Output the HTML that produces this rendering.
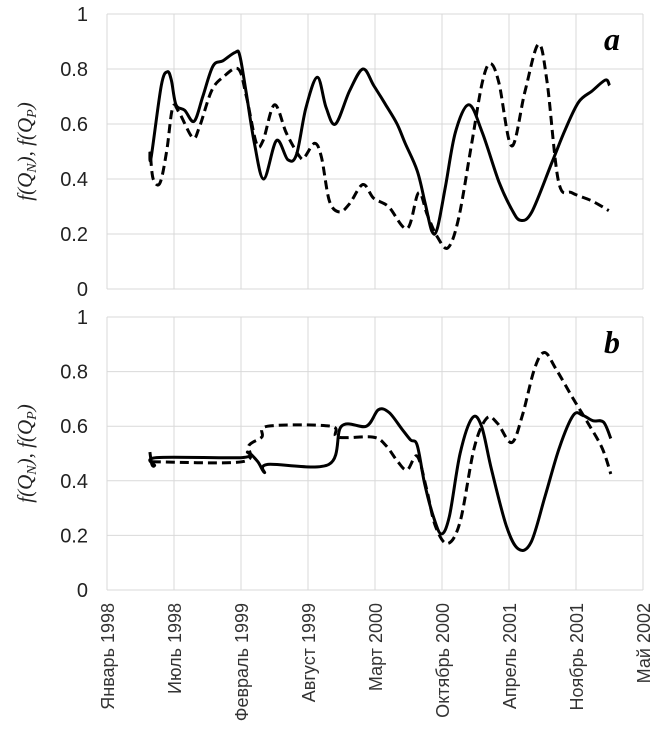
<!DOCTYPE html>
<html><head><meta charset="utf-8"><style>
body{margin:0;background:#fff;width:653px;height:749px;overflow:hidden}
svg{display:block}
text{font-family:"Liberation Sans",sans-serif}
text.serif{font-family:"Liberation Serif",serif}
</style></head><body>
<svg id="chart" width="653" height="749" viewBox="0 0 653 749" xmlns="http://www.w3.org/2000/svg"></svg>
<script>
// time in label-interval units (0 = Январь 1998 ... 8 = Май 2002)
const xLabels=["Январь 1998","Июль 1998","Февраль 1999","Август 1999","Март 2000","Октябрь 2000","Апрель 2001","Ноябрь 2001","Май 2002"];
const yTicks=[0,0.2,0.4,0.6,0.8,1];
const yTickLabels=["0","0.2","0.4","0.6","0.8","1"];
const aSolidT=[.64,.66,.81,.90,.96,1.03,1.16,1.30,1.43,1.58,1.73,1.91,1.98,2.08,2.20,2.34,2.53,2.70,2.83,2.97,3.14,3.27,3.41,3.62,3.82,3.98,4.16,4.33,4.45,4.63,4.75,4.85,4.93,5.05,5.20,5.40,5.60,5.85,6.04,6.17,6.34,6.64,6.84,7.04,7.24,7.44,7.50];
const aSolidV=[.50,.48,.74,.79,.76,.67,.65,.61,.70,.81,.83,.86,.85,.71,.53,.40,.54,.47,.49,.66,.77,.66,.60,.72,.80,.74,.67,.60,.53,.43,.31,.21,.22,.37,.57,.67,.57,.39,.29,.25,.28,.46,.58,.68,.72,.76,.74];
const aDashT=[.65,.69,.79,.89,.98,1.08,1.28,1.38,1.56,1.73,1.96,2.08,2.23,2.33,2.50,2.68,2.88,2.95,3.10,3.20,3.32,3.47,3.62,3.82,3.98,4.20,4.48,4.65,4.78,4.93,5.09,5.25,5.45,5.60,5.72,5.85,6.04,6.24,6.44,6.57,6.74,6.94,7.24,7.49];
const aDashV=[.48,.40,.385,.50,.66,.64,.55,.59,.72,.77,.80,.70,.53,.54,.67,.565,.48,.48,.53,.48,.32,.28,.31,.38,.33,.30,.22,.35,.27,.19,.15,.26,.54,.75,.82,.75,.52,.72,.89,.75,.39,.35,.32,.285];
const bSolidT=[.64,.67,.71,.74,2.02,2.10,2.25,2.35,2.40,3.31,3.50,3.87,4.05,4.21,4.40,4.53,4.63,4.74,4.87,4.99,5.11,5.27,5.45,5.59,5.74,5.96,6.14,6.33,6.54,6.75,6.96,7.10,7.25,7.41,7.52];
const bSolidV=[.505,.46,.456,.485,.485,.505,.47,.43,.46,.46,.60,.60,.66,.65,.59,.55,.53,.39,.27,.205,.27,.50,.63,.60,.44,.235,.15,.175,.345,.52,.64,.64,.62,.615,.555];
const bDashT=[.67,2.02,2.12,2.31,2.40,3.34,3.44,3.97,4.16,4.34,4.48,4.63,4.77,4.90,5.08,5.27,5.48,5.67,5.83,6.04,6.20,6.38,6.53,6.70,6.96,7.17,7.39,7.52];
const bDashV=[.47,.47,.53,.56,.60,.60,.56,.56,.53,.47,.44,.49,.37,.235,.17,.25,.52,.63,.61,.54,.64,.81,.87,.81,.70,.615,.52,.425];

const svg=document.getElementById('chart');
const NS="http://www.w3.org/2000/svg";
function mk(tag,attrs,parent){const e=document.createElementNS(NS,tag);for(const k in attrs)e.setAttribute(k,attrs[k]);(parent||svg).appendChild(e);return e;}
const X0=107,X1=643;
function xs(t){return X0+(X1-X0)*t/8;}
function smoothPath(pts){
  let d="M"+pts[0][0].toFixed(1)+","+pts[0][1].toFixed(1);
  for(let i=0;i<pts.length-1;i++){
    const p0=pts[Math.max(0,i-1)],p1=pts[i],p2=pts[i+1],p3=pts[Math.min(pts.length-1,i+2)];
    const c1x=p1[0]+(p2[0]-p0[0])/6,c1y=p1[1]+(p2[1]-p0[1])/6;
    const c2x=p2[0]-(p3[0]-p1[0])/6,c2y=p2[1]-(p3[1]-p1[1])/6;
    d+=" C"+c1x.toFixed(1)+","+c1y.toFixed(1)+" "+c2x.toFixed(1)+","+c2y.toFixed(1)+" "+p2[0].toFixed(1)+","+p2[1].toFixed(1);
  }
  return d;
}
function panel(top,bottom,letter,series,name){
  const ys=v=>bottom-(bottom-top)*v;
  const g=mk('g',{});
  
  
  for(let i=0;i<=8;i++){
    const l=mk('line',{x1:xs(i),x2:xs(i),y1:top,y2:bottom,stroke:'#d9d9d9','stroke-width':1},g);
    
    
  }
  yTicks.forEach((v,i)=>{
    const l=mk('line',{x1:X0,x2:X1,y1:ys(v),y2:ys(v),stroke:'#d9d9d9','stroke-width':1},g);
    
    
    const t=mk('text',{x:88,y:ys(v)+7,'text-anchor':'end','font-size':20,fill:'#222'},g);
    t.textContent=yTickLabels[i];
    
    
  });
  series.forEach(s=>{
    const pts=s.t.map((t,i)=>[xs(t),ys(s.v[i])]);
    const p=mk('path',{d:smoothPath(pts),fill:'none',stroke:'#000','stroke-width':3,'stroke-linejoin':'round','stroke-dasharray':s.dash?'9,5':'none'},g);
    
    
  });
  const lt=mk('text',{class:'serif',x:612,y:top+36,'text-anchor':'middle','font-size':32,'font-weight':'bold','font-style':'italic',fill:'#000'},g);
  lt.textContent=letter;
  
  
  const cy=(top+bottom)/2;
  const yt=mk('text',{class:'serif',x:0,y:0,transform:`translate(32,${cy}) rotate(-90)`,'text-anchor':'middle','font-size':21,'font-style':'italic',fill:'#222'},g);
  yt.innerHTML='f(Q<tspan font-size="14" dy="4">N</tspan><tspan dy="-4">), f(Q</tspan><tspan font-size="14" dy="4">P</tspan><tspan dy="-4">)</tspan>';
  
  
}
panel(14,289,'a',[{t:aSolidT,v:aSolidV,dash:false,name:'series-fqn-a'},{t:aDashT,v:aDashV,dash:true,name:'series-fqp-a'}],'panel-a');
panel(317,590,'b',[{t:bSolidT,v:bSolidV,dash:false,name:'series-fqn-b'},{t:bDashT,v:bDashV,dash:true,name:'series-fqp-b'}],'panel-b');
xLabels.forEach((s,i)=>{
  const t=mk('text',{x:0,y:0,transform:`translate(${xs(i)+7},603) rotate(-90)`,'text-anchor':'end','font-size':18,fill:'#333'});
  t.textContent=s;
  
  
});
</script>
</body></html>
